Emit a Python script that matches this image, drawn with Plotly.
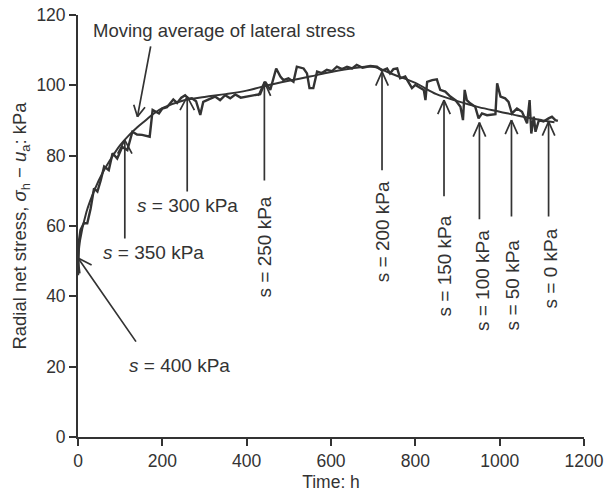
import math
import plotly.graph_objects as go

# Raw lateral stress record (time h, radial net stress kPa)
raw_t = [0, 2, 6, 14, 22, 30, 38, 46, 54, 62, 73, 82, 93, 105, 117, 129, 140, 152, 170, 177,
         192, 200, 211, 226, 235, 245, 254, 262, 270, 280, 290, 297, 310, 325, 337, 349, 361, 373, 386, 400,
         414, 432, 444, 456, 470, 480, 487, 499, 511, 519, 535, 543, 549, 558, 567, 578, 590, 602, 614, 626,
         638, 650, 661, 675, 693, 709, 721, 733, 740, 748, 757, 764, 776, 784, 792, 800, 810, 820, 824, 828,
         840, 851, 859, 871, 883, 895, 907, 913, 917, 922, 930, 942, 950, 958, 970, 982, 990, 994, 1002, 1013,
         1021, 1029, 1041, 1053, 1065, 1071, 1075, 1081, 1085, 1093, 1104, 1116, 1124, 1132, 1138]
raw_v = [46, 55.5, 58.9, 60.8, 60.8, 65, 70.7, 69.8, 73, 76.9, 75.9, 80.7, 79.2, 82.5, 81.6, 86.8, 86, 85.9, 85.4, 93,
         92, 93.4, 93.8, 96, 95, 96.5, 97.2, 96.2, 96.3, 95.5, 91.6, 95.3, 96, 96.8, 95.8, 97.2, 96.3, 97.4, 96.5, 96.8,
         97, 97.5, 101, 98.7, 104.8, 102.5, 101.5, 102, 101, 105.3, 104.8, 103.4, 99.2, 99.2, 103.9, 103.5, 104.4, 104, 105.3, 104.6,
         105.3, 104.8, 105.8, 105, 105.5, 105.3, 104.2, 104.8, 103.4, 104.6, 104.8, 102, 102.5, 101, 99.2, 100.1, 99.5, 98.7, 95.8, 101,
         101.5, 101.7, 98.7, 98.2, 96.8, 95.8, 93.9, 90.1, 98.7, 95.8, 94.9, 93.9, 90.6, 92, 91.5, 91.6, 91.8, 100.6, 96.8, 96.3,
         95.3, 92, 93.4, 92.5, 89.2, 95.8, 86.3, 91.1, 86.8, 90.1, 89.7, 90.6, 91.1, 90.1, 89.9]
assert len(raw_t) == len(raw_v)

# Moving average of lateral stress
avg_t = [0, 5, 20, 40, 60, 80, 100, 120, 140, 160, 180, 200, 250, 300, 350, 400, 450, 500, 550, 600,
         650, 700, 720, 750, 800, 850, 900, 950, 1000, 1050, 1100, 1130]
avg_v = [50, 56, 64, 70.5, 75.5, 79.5, 83, 85.7, 88, 90, 92, 93.5, 95.7, 96.7, 97.5, 98.5, 100, 101.3, 102.5, 103.8,
         104.8, 105.3, 104.5, 103, 100.7, 97.5, 95.5, 93.8, 92.5, 91.2, 90.1, 89.5]

# Suction stages: label, time of arrow, stress at arrow tip, stress at arrow tail, label position
stage_labels = ["<i>s</i> = 400 kPa", "<i>s</i> = 350 kPa", "<i>s</i> = 300 kPa", "s = 250 kPa", "s = 200 kPa",
                "s = 150 kPa", "s = 100 kPa", "s = 50 kPa", "s = 0 kPa"]
stage_tip_t = [0, 111, 259, 442, 721, 868, 952, 1028, 1116]
stage_tip_v = [50.9, 84.4, 96.8, 101, 103.9, 95.8, 89.4, 90.1, 89.7]
stage_tail_t = [140, 111, 259, 442, 721, 868, 952, 1028, 1116]
stage_tail_v = [26.7, 56, 69.4, 72.5, 75.4, 68, 61.5, 62.3, 62.3]
stage_lab_t = [240, 178, 260, 442, 724, 869, 961, 1030, 1120]
stage_lab_v = [20.2, 52.6, 65.7, 54, 58.3, 48.6, 44.4, 43.2, 48]
stage_rot = [0, 0, 0, -90, -90, -90, -90, -90, -90]

ma_label = "Moving average of lateral stress"
ma_tip = (141, 91.1)
ma_tail = (173, 111.5)
ma_lab = (346, 115.7)

ink = "#333333"
font = "Liberation Sans, Arial, sans-serif"

W, H = 605, 497
ML, MR, MT, MB = 78, 21, 15, 60
X_RANGE = [0, 1200]
Y_RANGE = [0, 120]
sx = (W - ML - MR) / (X_RANGE[1] - X_RANGE[0])   # px per hour
sy = (H - MT - MB) / (Y_RANGE[1] - Y_RANGE[0])   # px per kPa

fig = go.Figure()
fig.add_trace(go.Scatter(x=raw_t, y=raw_v, mode="lines", line=dict(color=ink, width=2.4), showlegend=False))
fig.add_trace(go.Scatter(x=avg_t, y=avg_v, mode="lines", line=dict(color=ink, width=2), line_shape="spline",
                         showlegend=False))

ann = []
line_kw = dict(showarrow=True, arrowhead=0, arrowwidth=1.7, arrowcolor=ink, text="", standoff=0,
               xref="x", yref="y")


def add_arrow(tip, tail, barb_len=17, barb_ang=24):
    # shaft in data coordinates
    ann.append(dict(x=tip[0], y=tip[1], ax=tail[0], ay=tail[1], axref="x", ayref="y", **line_kw))
    # open chevron head: two short strokes from the tip (offsets in pixels)
    dx = (tail[0] - tip[0]) * sx
    dy = -(tail[1] - tip[1]) * sy
    n = math.hypot(dx, dy)
    ux, uy = dx / n, dy / n
    for sgn in (1, -1):
        a = math.radians(barb_ang) * sgn
        bx = ux * math.cos(a) - uy * math.sin(a)
        by = ux * math.sin(a) + uy * math.cos(a)
        ann.append(dict(x=tip[0], y=tip[1], ax=bx * barb_len, ay=by * barb_len, **line_kw))


for i in range(len(stage_labels)):
    add_arrow((stage_tip_t[i], stage_tip_v[i]), (stage_tail_t[i], stage_tail_v[i]),
              barb_ang=28 if i < 3 else 24)
    ann.append(dict(x=stage_lab_t[i], y=stage_lab_v[i], xref="x", yref="y", text=stage_labels[i],
                    showarrow=False, textangle=stage_rot[i], font=dict(family=font, size=19, color=ink)))
add_arrow(ma_tip, ma_tail, barb_len=14, barb_ang=28)
ann.append(dict(x=ma_lab[0], y=ma_lab[1], xref="x", yref="y", text=ma_label, showarrow=False,
                font=dict(family=font, size=18.5, color=ink)))

axis_common = dict(showline=True, linecolor=ink, linewidth=1.8, ticks="outside", ticklen=7, tickwidth=1.6,
                   tickcolor=ink, showgrid=False, zeroline=False, mirror=False, automargin=False,
                   ticklabeloverflow="allow", tickfont=dict(family=font, size=17.5, color=ink))

fig.update_layout(
    width=W, height=H,
    margin=dict(l=ML, r=MR, t=MT, b=MB, autoexpand=False),
    paper_bgcolor="white", plot_bgcolor="white",
    xaxis=dict(range=X_RANGE, tick0=0, dtick=200,
               title=dict(text="Time: h", font=dict(family=font, size=17.5, color=ink), standoff=6),
               **axis_common),
    yaxis=dict(range=Y_RANGE, tick0=0, dtick=20,
               title=dict(text="Radial net stress, <i>σ</i><sub>h</sub> − <i>u</i><sub>a</sub>: kPa",
                          font=dict(family=font, size=18.5, color=ink), standoff=5),
               **axis_common),
    annotations=ann,
)

# remove the default page margin so the figure fills the window exactly
fig.write_html("out.html", config={"displayModeBar": False},
               post_script="document.body.style.margin='0';document.body.style.overflow='hidden';")
